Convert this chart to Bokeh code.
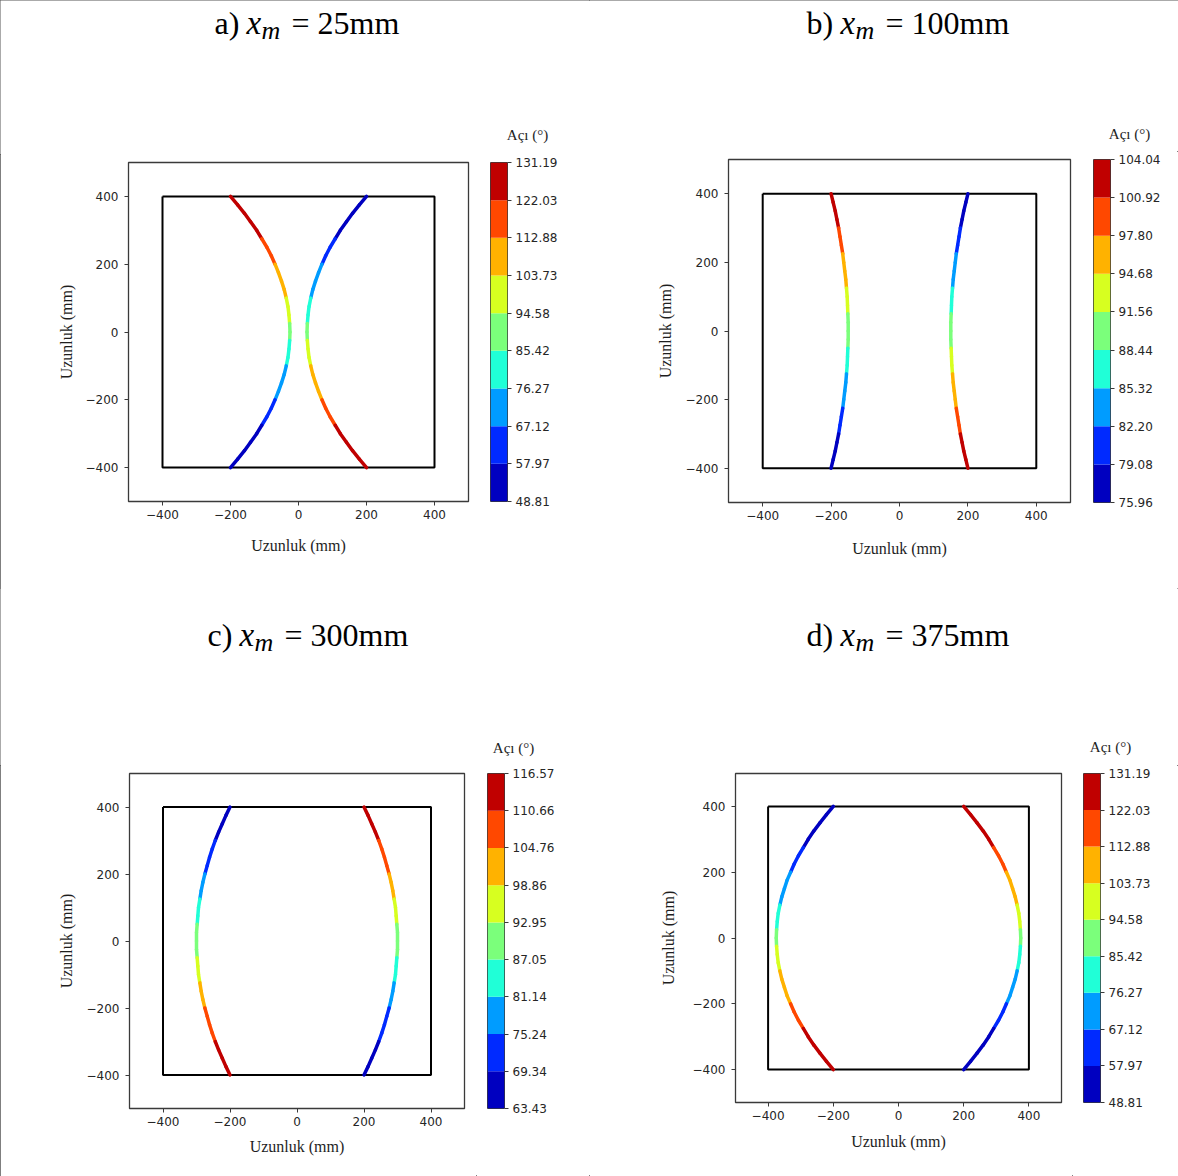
from bokeh.plotting import figure
from bokeh.layouts import row, column
from bokeh.models import (Range1d, FixedTicker, LinearAxis, Label, ColumnDataSource,
                          PrintfTickFormatter)
from bokeh.transform import linear_cmap
from bokeh.embed import file_html
from bokeh.resources import INLINE

# ---------------- data ----------------
Y = [400, 375, 350, 325, 300, 275, 250, 225, 200, 175, 150, 125, 100, 75, 50, 25, 0,
     -25, -50, -75, -100, -125, -150, -175, -200, -225, -250, -275, -300, -325, -350, -375, -400]

A_LEFT_X = [-200, -179, -159, -141, -123, -108, -93, -80, -69, -59, -50, -42, -36, -31, -28, -26, -25,
            -26, -28, -31, -36, -42, -50, -59, -69, -80, -93, -108, -123, -141, -159, -179, -200]
A_LEFT_ANG = [131.19, 129.36, 127.43, 125.41, 123.27, 121.03, 118.67, 116.21, 113.63, 110.94, 108.17,
              105.29, 102.34, 99.32, 96.24, 93.13, 90.00, 86.87, 83.76, 80.68, 77.66, 74.71, 71.83,
              69.06, 66.37, 63.79, 61.33, 58.97, 56.73, 54.59, 52.57, 50.64, 48.81]
A_RIGHT_X = [200, 179, 159, 141, 123, 108, 93, 80, 69, 59, 50, 42, 36, 31, 28, 26, 25,
             26, 28, 31, 36, 42, 50, 59, 69, 80, 93, 108, 123, 141, 159, 179, 200]
A_RIGHT_ANG = [48.81, 50.64, 52.57, 54.59, 56.73, 58.97, 61.33, 63.79, 66.37, 69.06, 71.83, 74.71,
               77.66, 80.68, 83.76, 86.87, 90.00, 93.13, 96.24, 99.32, 102.34, 105.29, 108.17, 110.94,
               113.63, 116.21, 118.67, 121.03, 123.27, 125.41, 127.43, 129.36, 131.19]

B_LEFT_X = [-200, -194, -188, -183, -178, -174, -170, -166, -163, -160, -157, -155, -153, -152, -151, -150, -150,
            -150, -151, -152, -153, -155, -157, -160, -163, -166, -170, -174, -178, -183, -188, -194, -200]
B_LEFT_ANG = [104.04, 103.19, 102.34, 101.48, 100.62, 99.75, 98.88, 98.00, 97.13, 96.24, 95.36, 94.47,
              93.58, 92.68, 91.79, 90.90, 90.00, 89.10, 88.21, 87.32, 86.42, 85.53, 84.64, 83.76, 82.87,
              82.00, 81.12, 80.25, 79.38, 78.52, 77.66, 76.81, 75.96]
B_RIGHT_X = [200, 194, 188, 183, 178, 174, 170, 166, 163, 160, 157, 155, 153, 152, 151, 150, 150,
             150, 151, 152, 153, 155, 157, 160, 163, 166, 170, 174, 178, 183, 188, 194, 200]
B_RIGHT_ANG = [75.96, 76.81, 77.66, 78.52, 79.38, 80.25, 81.12, 82.00, 82.87, 83.76, 84.64, 85.53,
               86.42, 87.32, 88.21, 89.10, 90.00, 90.90, 91.79, 92.68, 93.58, 94.47, 95.36, 96.24, 97.13,
               98.00, 98.88, 99.75, 100.62, 101.48, 102.34, 103.19, 104.04]

C_LEFT_X = [-200, -212, -223, -234, -244, -253, -261, -268, -275, -281, -286, -290, -294, -296, -298, -300, -300,
            -300, -298, -296, -294, -290, -286, -281, -275, -268, -261, -253, -244, -234, -223, -212, -200]
C_LEFT_ANG = [63.43, 64.89, 66.37, 67.89, 69.45, 71.03, 72.65, 74.29, 75.96, 77.66, 79.38, 81.12, 82.87,
              84.64, 86.42, 88.21, 90.00, 91.79, 93.58, 95.36, 97.13, 98.88, 100.62, 102.34, 104.04,
              105.71, 107.35, 108.97, 110.55, 112.11, 113.63, 115.11, 116.57]
C_RIGHT_X = [200, 212, 223, 234, 244, 253, 261, 268, 275, 281, 286, 290, 294, 296, 298, 300, 300,
             300, 298, 296, 294, 290, 286, 281, 275, 268, 261, 253, 244, 234, 223, 212, 200]
C_RIGHT_ANG = [116.57, 115.11, 113.63, 112.11, 110.55, 108.97, 107.35, 105.71, 104.04, 102.34, 100.62,
               98.88, 97.13, 95.36, 93.58, 91.79, 90.00, 88.21, 86.42, 84.64, 82.87, 81.12, 79.38, 77.66,
               75.96, 74.29, 72.65, 71.03, 69.45, 67.89, 66.37, 64.89, 63.43]

D_LEFT_X = [-200, -221, -241, -260, -277, -292, -307, -320, -331, -342, -350, -358, -364, -369, -372, -374, -375,
            -374, -372, -369, -364, -358, -350, -342, -331, -320, -307, -292, -277, -260, -241, -221, -200]
D_LEFT_ANG = [48.81, 50.64, 52.57, 54.59, 56.73, 58.97, 61.33, 63.79, 66.37, 69.06, 71.83, 74.71,
              77.66, 80.68, 83.76, 86.87, 90.00, 93.13, 96.24, 99.32, 102.34, 105.29, 108.17, 110.94,
              113.63, 116.21, 118.67, 121.03, 123.27, 125.41, 127.43, 129.36, 131.19]
D_RIGHT_X = [200, 221, 241, 260, 277, 292, 307, 320, 331, 342, 350, 358, 364, 369, 372, 374, 375,
             374, 372, 369, 364, 358, 350, 342, 331, 320, 307, 292, 277, 260, 241, 221, 200]
D_RIGHT_ANG = [131.19, 129.36, 127.43, 125.41, 123.27, 121.03, 118.67, 116.21, 113.63, 110.94, 108.17,
               105.29, 102.34, 99.32, 96.24, 93.13, 90.00, 86.87, 83.76, 80.68, 77.66, 74.71, 71.83,
               69.06, 66.37, 63.79, 61.33, 58.97, 56.73, 54.59, 52.57, 50.64, 48.81]

# colour-bar boundaries (tick labels)
CB_A = [48.81, 57.97, 67.12, 76.27, 85.42, 94.58, 103.73, 112.88, 122.03, 131.19]
CB_B = [75.96, 79.08, 82.20, 85.32, 88.44, 91.56, 94.68, 97.80, 100.92, 104.04]
CB_C = [63.43, 69.34, 75.24, 81.14, 87.05, 92.95, 98.86, 104.76, 110.66, 116.57]
CB_D = [48.81, 57.97, 67.12, 76.27, 85.42, 94.58, 103.73, 112.88, 122.03, 131.19]

BOX_X = [-400, 400, 400, -400, -400]
BOX_Y = [400, 400, -400, -400, 400]

AXIS_TICKS = [-400, -200, 0, 200, 400]
AXIS_LABELS = ["\u2212400", "\u2212200", "0", "200", "400"]

TITLE_PREFIX = ["a)", "b)", "c)", "d)"]
TITLE_VALUE = ["= 25mm", "= 100mm", "= 300mm", "= 375mm"]

# jet colormap, 9 discrete levels
JET9 = ["#0000c0", "#002aff", "#009cff", "#20ffd7", "#7bff7b",
        "#d7ff20", "#ffb200", "#ff4800", "#c00000"]

QH = 588
TOPB = 8
TEXT_C = "#262626"
SERIF = "Liberation Serif"
SANS = "DejaVu Sans"


def make_quadrant(idx, curves, bounds, geo):
    W, L, R, T, B = geo["W"], geo["L"], geo["R"], geo["T"], geo["B"]
    HH = T - TOPB              # header height
    PH = QH - HH               # plot row height

    # ---------- header (title + colour-bar title), coordinates in pixels ----------
    hd = figure(width=589, height=HH, x_range=Range1d(0, 589), y_range=Range1d(HH, 0),
                output_backend="svg", toolbar_location=None,
                x_axis_location=None, y_axis_location=None,
                min_border_left=0, min_border_right=0, min_border_top=0, min_border_bottom=0)
    hd.xgrid.visible = False
    hd.ygrid.visible = False
    hd.outline_line_color = None
    hd.border_fill_color = "white"
    tx, tb, ox = geo["tx"], geo["tb"], geo["ox"]
    hd.add_layout(Label(x=tx, y=tb, text=TITLE_PREFIX[idx], text_font=SERIF, text_font_size="32px",
                        text_color="black", text_baseline="alphabetic"))
    hd.add_layout(Label(x=tx + ox, y=tb, text="x", text_font=SERIF, text_font_style="italic",
                        text_font_size="33px", text_color="black", text_baseline="alphabetic"))
    hd.add_layout(Label(x=tx + ox + 15, y=tb + 8, text="m", text_font=SERIF, text_font_style="italic",
                        text_font_size="26px", text_color="black", text_baseline="alphabetic"))
    hd.add_layout(Label(x=tx + ox + 45, y=tb, text=TITLE_VALUE[idx], text_font=SERIF,
                        text_font_size="32px", text_color="black", text_baseline="alphabetic"))
    hd.add_layout(Label(x=geo["cbl"] + geo["ctx"], y=T - geo["cty"], text="A\u00e7\u0131 (\u00b0)",
                        text_font=SERIF, text_font_size="15px", text_color="#1e1e1e",
                        text_align="center", text_baseline="middle"))

    # ---------- main plot ----------
    p = figure(width=W, height=PH, x_range=Range1d(-500, 500), y_range=Range1d(-500, 500),
               output_backend="svg", toolbar_location=None,
               min_border_left=L, min_border_right=W - R, min_border_top=TOPB,
               min_border_bottom=QH - B)
    p.xgrid.visible = False
    p.ygrid.visible = False
    p.background_fill_color = "white"
    p.border_fill_color = "white"
    p.outline_line_color = "#3a3a3a"
    p.outline_line_width = 1.3
    for ax, st in ((p.xaxis[0], geo["xls"]), (p.yaxis[0], geo["yls"])):
        ax.ticker = FixedTicker(ticks=AXIS_TICKS)
        ax.major_label_overrides = {t: s for t, s in zip(AXIS_TICKS, AXIS_LABELS)}
        ax.axis_line_color = None
        ax.major_tick_line_color = "#3a3a3a"
        ax.major_tick_out = 4
        ax.major_tick_in = 0
        ax.minor_tick_line_color = None
        ax.major_label_text_font = SANS
        ax.major_label_text_font_size = "12px"
        ax.major_label_text_color = TEXT_C
        ax.axis_label = "Uzunluk (mm)"
        ax.axis_label_text_font = SERIF
        ax.axis_label_text_font_style = "normal"
        ax.axis_label_text_font_size = "16px"
        ax.axis_label_text_color = "#1e1e1e"
        ax.axis_label_standoff = st
    p.xaxis[0].major_label_standoff = 4
    p.yaxis[0].major_label_standoff = 6

    # inner black rectangle
    p.line(BOX_X, BOX_Y, line_color="black", line_width=2)

    mapper = linear_cmap("a", JET9, bounds[0], bounds[-1])
    for xs, ang in curves:
        src = ColumnDataSource(dict(
            x0=xs[:-1], y0=Y[:-1], x1=xs[1:], y1=Y[1:],
            a=[(u + v) / 2 for u, v in zip(ang[:-1], ang[1:])]))
        p.segment("x0", "y0", "x1", "y1", source=src, line_color=mapper,
                  line_width=3.5, line_cap="round")

    # ---------- colour bar ----------
    cw = 589 - W
    cl = geo["cbl"] - W
    cb = figure(width=cw, height=PH, x_range=Range1d(0, 1), y_range=Range1d(bounds[0], bounds[-1]),
                output_backend="svg", toolbar_location=None,
                x_axis_location=None, y_axis_location=None,
                min_border_left=cl, min_border_right=cw - cl - 17,
                min_border_top=TOPB, min_border_bottom=QH - B)
    cb.xgrid.visible = False
    cb.ygrid.visible = False
    cb.outline_line_color = "#3a3a3a"
    cb.outline_line_width = 1
    cb.border_fill_color = "white"
    csrc = ColumnDataSource(dict(bottom=bounds[:-1], top=bounds[1:], color=JET9))
    cb.quad(left=0, right=1, bottom="bottom", top="top", fill_color="color", line_color=None,
            source=csrc)
    cax = LinearAxis(ticker=FixedTicker(ticks=bounds), formatter=PrintfTickFormatter(format="%.2f"))
    cax.axis_line_color = None
    cax.major_tick_line_color = "#3a3a3a"
    cax.major_tick_out = 4
    cax.major_tick_in = 0
    cax.minor_tick_line_color = None
    cax.major_label_standoff = 4
    cax.major_label_text_font = SANS
    cax.major_label_text_font_size = "12px"
    cax.major_label_text_color = TEXT_C
    cb.add_layout(cax, "right")

    return column(hd, row(p, cb, spacing=0), spacing=0)


GEO = [
    dict(W=480, L=128, R=468, T=162, B=501, xls=15, yls=8, tx=214, tb=22, ox=32, cbl=490, ctx=37, cty=28),
    dict(W=493, L=139, R=481, T=159, B=502, xls=17, yls=9, tx=217, tb=22, ox=34, cbl=504, ctx=36, cty=26),
    dict(W=476, L=129, R=464, T=185, B=520, xls=9, yls=9, tx=207, tb=46, ox=32, cbl=487, ctx=26, cty=26),
    dict(W=483, L=146, R=472, T=185, B=514, xls=10, yls=13, tx=217, tb=46, ox=34, cbl=494, ctx=27, cty=27),
]

qa = make_quadrant(0, [(A_LEFT_X, A_LEFT_ANG), (A_RIGHT_X, A_RIGHT_ANG)], CB_A, GEO[0])
qb = make_quadrant(1, [(B_LEFT_X, B_LEFT_ANG), (B_RIGHT_X, B_RIGHT_ANG)], CB_B, GEO[1])
qc = make_quadrant(2, [(C_LEFT_X, C_LEFT_ANG), (C_RIGHT_X, C_RIGHT_ANG)], CB_C, GEO[2])
qd = make_quadrant(3, [(D_LEFT_X, D_LEFT_ANG), (D_RIGHT_X, D_RIGHT_ANG)], CB_D, GEO[3])

layout = column(row(qa, qb, spacing=0), row(qc, qd, spacing=0), spacing=0,
                styles={"outline": "1px solid #555555", "outline-offset": "-1px"})

open("out.html", "w").write(file_html(layout, INLINE))
